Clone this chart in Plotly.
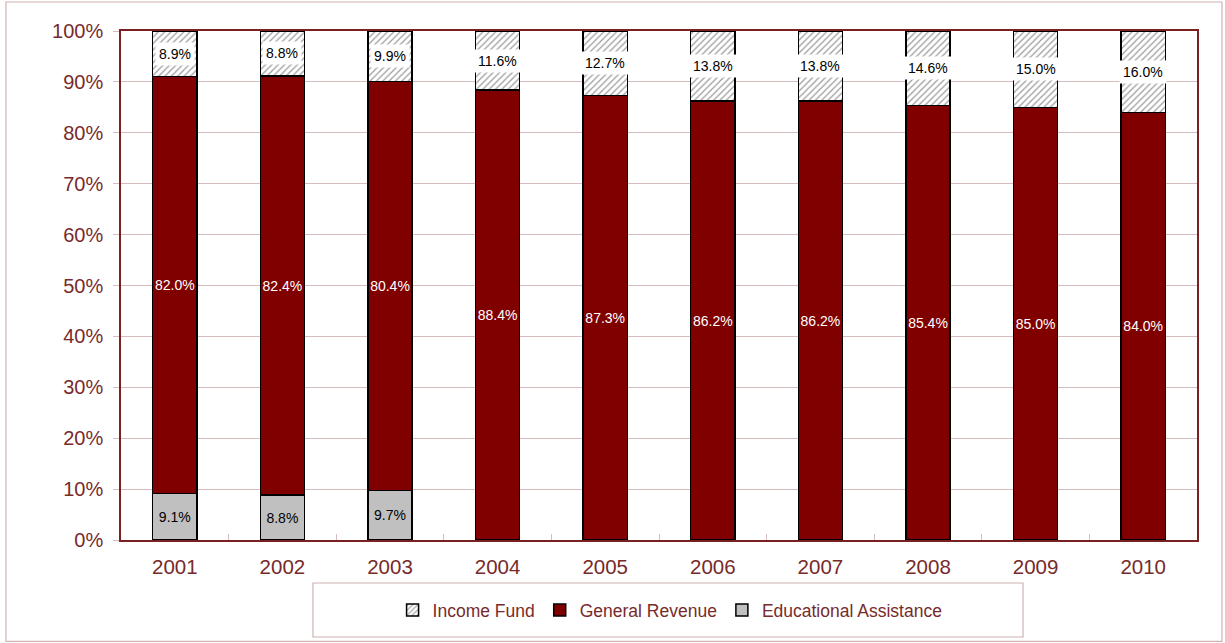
import plotly.graph_objects as go

years = ["2001", "2002", "2003", "2004", "2005", "2006", "2007", "2008", "2009", "2010"]
educational = [9.1, 8.8, 9.7, 0, 0, 0, 0, 0, 0, 0]
general = [82.0, 82.4, 80.4, 88.4, 87.3, 86.2, 86.2, 85.4, 85.0, 84.0]
income = [8.9, 8.8, 9.9, 11.6, 12.7, 13.8, 13.8, 14.6, 15.0, 16.0]

AXC = "#772b2b"
GRID = "#d6bcbc"
FONT = "Liberation Sans, Arial, sans-serif"

fig = go.Figure()
fig.add_trace(go.Bar(
    x=years, y=educational, name="Educational Assistance",
    marker=dict(color="#c0c0c0", line=dict(color="black", width=1.5)),
    text=[f"{v:.1f}%" if v > 0 else "" for v in educational],
    textposition="inside", insidetextanchor="middle", textangle=0,
    textfont=dict(color="black", size=14, family=FONT),
    width=0.41, legendrank=3,
))
fig.add_trace(go.Bar(
    x=years, y=general, name="General Revenue",
    marker=dict(color="#800000", line=dict(color="black", width=1.5)),
    text=[f"{v:.1f}%" for v in general],
    textposition="inside", insidetextanchor="middle", textangle=0,
    textfont=dict(color="white", size=14, family=FONT),
    width=0.41, legendrank=2,
))
fig.add_trace(go.Bar(
    x=years, y=income, name="Income Fund",
    marker=dict(color="white", line=dict(color="black", width=1.5),
                pattern=dict(shape="/", fgcolor="#444444", bgcolor="white", size=4.5, solidity=0.3)),
    width=0.41, legendrank=1,
))

for i, y in enumerate(years):
    base = educational[i] + general[i]
    fig.add_annotation(x=i, y=base + income[i] / 2, text=f"{income[i]:.1f}%",
                       showarrow=False, bgcolor="white", borderpad=3,
                       font=dict(color="black", size=14, family=FONT))

# outer chart border
fig.add_shape(type="rect", xref="paper", yref="paper",
              x0=-0.1069, x1=1.0232, y0=-0.199, y1=1.057,
              line=dict(color="#cfb2b2", width=1.2), fillcolor="rgba(0,0,0,0)", layer="below")
# legend box
fig.add_shape(type="rect", xref="paper", yref="paper",
              x0=0.1784, x1=0.8383, y0=-0.1906, y1=-0.0845,
              line=dict(color="#cfb2b2", width=1.2), fillcolor="rgba(0,0,0,0)")

fig.update_layout(
    barmode="stack",
    width=1225, height=643,
    margin=dict(l=121, r=28, t=31, b=103, autoexpand=False),
    paper_bgcolor="white", plot_bgcolor="white",
    font=dict(family=FONT, color=AXC),
    uniformtext=dict(minsize=14, mode="show"),
    showlegend=True,
    legend=dict(orientation="h", xref="container", yref="container",
                x=0.547, xanchor="center", y=0.0513, yanchor="middle",
                font=dict(size=17.5, color=AXC, family=FONT), traceorder="normal",
                itemwidth=30, bgcolor="rgba(0,0,0,0)"),
    xaxis=dict(type="category", range=[-0.5, 9.5], tickfont=dict(size=20.5, color=AXC),
               showline=True, linecolor="#7a2020", linewidth=1.5, mirror=True,
               ticks="inside", tickson="boundaries", ticklen=6, tickcolor=GRID,
               showgrid=False, tickangle=0, ticklabelstandoff=8),
    yaxis=dict(range=[0, 100], dtick=10, ticksuffix="%",
               tickfont=dict(size=20, color=AXC), ticklabelstandoff=6,
               showline=True, linecolor="#7a2020", linewidth=1.5, mirror=True,
               ticks="outside", ticklen=6, tickcolor=GRID,
               showgrid=True, gridcolor=GRID, gridwidth=1, zeroline=False),
)

fig.write_html("out.html", config={"displayModeBar": False},
               post_script="document.body.style.margin='0';document.body.style.overflow='hidden';")
